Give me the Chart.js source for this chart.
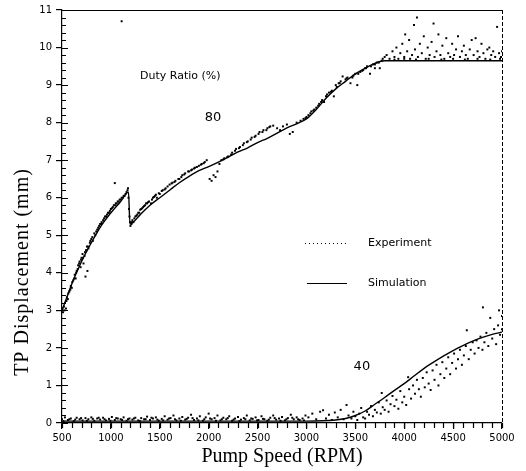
<!DOCTYPE html>
<html>
<head>
<meta charset="utf-8">
<script src="https://cdn.jsdelivr.net/npm/chart.js@4.4.1/dist/chart.umd.min.js"></script>
<style>
html,body{margin:0;padding:0;background:#fff;}
#wrap{width:526px;height:471px;position:relative;}
</style>
</head>
<body>
<div id="wrap"><canvas id="c" width="526" height="471"></canvas></div>
<script>
// ---- data ----
const xTicks = [500,1000,1500,2000,2500,3000,3500,4000,4500,5000];
const yTicks = [0,1,2,3,4,5,6,7,8,9,10,11];

const xTitle = "Pump Speed (RPM)";
const yTitle = "TP Displacement (mm)";
const legendLabels = ["Experiment", "Simulation"];
const annotationLabels = ["Duty Ratio (%)", "80", "40"];

// Simulation, duty ratio 80 %
const sim80Rpm = [500,550,600,700,800,900,1000,1100,1180,1195,1300,1400,1500,1600,1700,1800,1900,2000,2100,2200,2300,2400,2500,2600,2700,2800,2900,3000,3100,3200,3300,3400,3500,3600,3700,3800,3900,4000,4500,5000];
const sim80Tp  = [3.0,3.35,3.7,4.3,4.8,5.25,5.6,5.9,6.15,5.3,5.55,5.8,6.0,6.2,6.4,6.57,6.72,6.83,6.95,7.08,7.22,7.33,7.47,7.58,7.72,7.86,7.97,8.1,8.35,8.65,8.9,9.1,9.3,9.45,9.58,9.65,9.65,9.65,9.65,9.65];

// Simulation, duty ratio 40 %
const sim40Rpm = [500,1000,1500,2000,2500,3000,3300,3400,3500,3600,3700,3800,3900,4000,4100,4200,4300,4400,4500,4600,4700,4800,4900,5000];
const sim40Tp  = [0.05,0.05,0.05,0.05,0.05,0.05,0.08,0.12,0.2,0.32,0.5,0.68,0.87,1.05,1.25,1.45,1.62,1.78,1.93,2.06,2.18,2.28,2.36,2.42];

// Experiment, duty ratio 80 % ([rpm, mm])
const exp80 = [
[500,3.0],[510,2.95],[520,3.1],[530,3.2],[540,3.05],[550,3.35],[560,3.3],[575,3.5],[590,3.65],[600,3.6],
[615,3.8],[630,3.95],[640,3.85],[650,4.05],[665,4.2],[680,4.3],[690,4.15],[700,4.4],[710,4.5],[720,4.25],
[730,4.45],[740,3.9],[745,4.6],[755,4.7],[760,4.05],[770,4.65],[785,4.8],[800,4.9],[815,4.85],[830,5.05],
[850,5.1],[870,5.2],[890,5.3],[905,5.35],[920,5.4],[940,5.5],[960,5.55],[980,5.6],[1000,5.7],[1020,5.75],
[1040,6.39],[1045,5.8],[1060,5.85],[1080,5.9],[1100,5.95],[1110,10.7],[1120,6.0],[1140,6.05],[1160,6.15],[1175,6.25],
[1180,6.0],[1185,5.7],[1190,5.5],[1195,5.35],[1200,5.25],
[1210,5.3],[1220,5.4],[1230,5.35],[1250,5.5],[1270,5.55],[1290,5.6],[1310,5.7],[1330,5.75],[1350,5.8],[1370,5.85],
[1390,5.9],[1410,5.85],[1430,6.0],[1450,6.05],[1470,6.0],[1500,6.1],[1530,6.2],[1560,6.25],[1600,6.35],[1630,6.4],
[1660,6.45],[1700,6.5],[1730,6.6],[1760,6.65],[1800,6.7],[1830,6.75],[1860,6.8],[1900,6.85],[1930,6.9],[1960,6.95],
[1980,7.0],[2010,6.5],[2030,6.45],[2050,6.6],[2070,6.55],[2090,6.7],[2110,6.9],[2130,7.0],[2160,7.05],[2200,7.1],
[2240,7.2],[2280,7.3],[2320,7.35],[2360,7.45],[2400,7.5],[2440,7.6],[2480,7.65],[2520,7.75],[2560,7.8],[2600,7.85],
[2630,7.9],[2660,7.92],[2700,7.85],[2730,7.8],[2760,7.9],[2800,7.95],[2830,7.7],[2860,7.75],[2900,8.0],[2940,8.05],
[2970,8.1],[3000,8.15],[3020,8.2],[3050,8.3],[3080,8.35],[3100,8.4],[3130,8.5],[3160,8.6],[3180,8.55],[3200,8.7],
[3230,8.8],[3260,8.85],[3280,8.7],[3300,9.0],[3330,9.05],[3350,9.1],[3370,9.23],[3400,9.15],[3420,9.2],[3450,9.05],
[3480,9.25],[3500,9.3],[3520,9.0],[3550,9.35],[3580,9.4],[3600,9.45],[3620,9.5],[3650,9.3],[3680,9.55],[3700,9.45],
[3720,9.6],[3750,9.45],[3780,9.7],[3800,9.75],[3820,9.8],[3850,9.7],[3880,9.9],[3900,9.75],[3920,10.0],[3940,9.7],
[3960,9.85],[3980,10.1],[4000,9.75],[4010,10.35],[4030,9.9],[4050,10.2],[4060,9.7],[4080,9.8],[4100,10.6],[4110,9.95],
[4130,10.8],[4140,9.75],[4160,10.1],[4180,9.85],[4200,10.3],[4220,9.7],[4240,10.0],[4260,9.8],[4280,10.15],[4300,10.64],
[4310,9.75],[4330,9.9],[4350,10.35],[4370,9.8],[4390,10.05],[4410,9.7],[4430,10.25],[4450,9.85],[4470,9.75],[4490,10.1],
[4510,9.8],[4530,9.95],[4550,10.3],[4570,9.75],[4590,9.9],[4610,10.05],[4630,9.8],[4650,9.7],[4670,9.95],[4690,10.2],
[4710,9.8],[4730,10.25],[4750,9.9],[4770,9.75],[4790,10.1],[4810,9.85],[4830,9.7],[4850,9.95],[4870,10.0],[4890,9.8],
[4910,9.9],[4930,9.75],[4950,10.55],[4970,9.85],[4990,9.75],[5000,9.9],
[3900,9.68],[4000,9.7],[4120,9.68],[4250,9.7],[4380,9.68],[4500,9.7],[4620,9.68],[4750,9.7],[4880,9.68],[4980,9.7],
[505,3.05],[525,3.0],[545,3.25],[565,3.45],[585,3.55],[605,3.75],[625,3.85],[645,4.0],[660,4.1],[675,4.25],
[695,4.35],[715,4.4],[735,4.55],[750,4.6],[765,4.7],[790,4.85],[810,4.95],[840,5.0],[860,5.15],[880,5.25],
[900,5.3],[930,5.45],[950,5.5],[970,5.6],[990,5.65],[1010,5.72],[1030,5.8],[1050,5.85],[1070,5.9],[1090,5.95],
[1110,6.0],[1130,6.05],[1150,6.1],[1170,6.2],
[1215,5.35],[1240,5.45],[1260,5.52],[1280,5.6],[1300,5.68],[1320,5.72],[1340,5.78],[1360,5.85],[1380,5.88],[1420,5.95],
[1440,6.02],[1460,6.08],[1490,6.12],[1520,6.18],[1550,6.22],[1580,6.3],[1620,6.38],[1650,6.42],[1690,6.5],[1720,6.55],
[1750,6.62],[1790,6.7],[1820,6.73],[1850,6.78],[1880,6.82],[1920,6.88],[1950,6.92],
[2150,7.02],[2190,7.08],[2230,7.15],[2270,7.25],[2310,7.32],[2350,7.4],[2390,7.48],[2430,7.55],[2470,7.62],[2510,7.7],
[2550,7.75],[2590,7.8],[2620,7.88],[2990,8.12],[3040,8.25],[3070,8.32],[3120,8.45],[3150,8.55],[3210,8.75],
[3250,8.82],[3310,8.95],[3340,9.05],[3410,9.18],[3470,9.2],[3530,9.3],[3570,9.38],[3610,9.45],[3660,9.5],[3700,9.55],
[3740,9.6],[3770,9.65]
];

// Experiment, duty ratio 40 % ([rpm, mm])
const exp40 = [
[500,0.1],[530,0.15],[560,0.08],[590,0.12],[620,0.05],[650,0.14],[680,0.1],[710,0.07],[740,0.13],[770,0.1],
[800,0.15],[830,0.06],[860,0.12],[890,0.09],[920,0.14],[950,0.07],[980,0.11],[1010,0.16],[1040,0.08],[1070,0.12],
[1100,0.1],[1130,0.15],[1160,0.06],[1190,0.12],[1220,0.09],[1250,0.14],[1280,0.07],[1310,0.13],[1340,0.1],[1370,0.17],
[1400,0.08],[1430,0.12],[1460,0.15],[1490,0.06],[1520,0.11],[1550,0.18],[1580,0.09],[1610,0.13],[1640,0.2],[1670,0.07],
[1700,0.12],[1730,0.16],[1760,0.09],[1790,0.14],[1820,0.22],[1850,0.08],[1880,0.12],[1910,0.18],[1940,0.06],[1970,0.15],
[2000,0.25],[2030,0.1],[2060,0.13],[2090,0.2],[2120,0.07],[2150,0.14],[2180,0.1],[2210,0.18],[2240,0.06],[2270,0.12],
[2300,0.16],[2330,0.09],[2360,0.13],[2390,0.2],[2420,0.07],[2450,0.11],[2480,0.15],[2510,0.08],[2540,0.18],[2570,0.1],
[2600,0.06],[2630,0.14],[2660,0.2],[2690,0.09],[2720,0.12],[2750,0.16],[2780,0.07],[2810,0.13],[2840,0.22],[2870,0.1],
[2900,0.15],[2930,0.08],[2960,0.12],[2990,0.2],
[515,0.05],[575,0.1],[635,0.09],[695,0.13],[755,0.06],[815,0.11],[875,0.14],[935,0.1],[995,0.06],[1055,0.13],
[1115,0.08],[1175,0.1],[1235,0.12],[1295,0.05],[1355,0.1],[1415,0.14],[1475,0.09],[1535,0.07],[1595,0.12],[1655,0.1],
[1715,0.06],[1775,0.11],[1835,0.13],[1895,0.07],[1955,0.1],[2015,0.12],[2075,0.06],[2135,0.1],[2195,0.13],[2255,0.09],
[2315,0.05],[2375,0.1],[2435,0.12],[2495,0.07],[2555,0.11],[2615,0.09],[2675,0.13],[2735,0.06],[2795,0.1],[2855,0.14],
[2915,0.1],[2975,0.07],
[3020,0.15],[3060,0.25],[3100,0.1],[3140,0.3],[3170,0.34],[3200,0.12],[3230,0.22],[3260,0.08],[3290,0.28],[3320,0.15],
[3350,0.35],[3380,0.1],[3410,0.48],[3430,0.2],[3460,0.12],[3480,0.3],[3500,0.18],[3520,0.08],[3540,0.25],[3560,0.4],
[3580,0.15],[3600,0.12],[3620,0.3],[3640,0.22],[3660,0.45],[3680,0.18],[3700,0.35],[3720,0.28],[3740,0.55],[3760,0.25],
[3770,0.8],[3780,0.42],[3800,0.35],[3820,0.6],[3840,0.3],[3860,0.5],[3880,0.72],[3900,0.45],[3920,0.62],[3940,0.38],
[3960,0.85],[3980,0.55],[4000,0.7],[4020,0.48],[4040,1.22],[4050,0.9],[4070,0.65],[4090,1.0],[4110,0.78],[4130,1.15],
[4150,0.9],[4170,0.7],[4190,1.2],[4210,0.95],[4230,1.35],[4250,1.05],[4270,0.88],[4290,1.4],[4310,1.15],[4330,1.55],
[4350,1.0],[4370,1.3],[4390,1.62],[4410,1.2],[4430,1.45],[4450,1.75],[4470,1.3],[4490,1.6],[4510,1.85],[4530,1.45],
[4550,1.7],[4570,1.95],[4590,1.55],[4610,1.8],[4630,2.05],[4640,2.47],[4660,1.7],[4680,1.95],[4700,2.15],[4720,1.85],
[4740,2.2],[4760,2.0],[4780,2.3],[4800,1.95],[4805,3.08],[4820,2.15],[4840,2.4],[4860,2.05],[4880,2.8],[4900,2.25],
[4920,2.5],[4940,2.1],[4960,2.6],[4970,3.0],[4980,2.35],[5000,2.5],[5000,2.85]
];

// ---- build datasets ----
const pairs = a => a.map(p => ({x:p[0], y:p[1]}));
const zip = (xs, ys) => xs.map((x,i) => ({x:x, y:ys[i]}));

const serif = "'Liberation Serif','Times New Roman',serif";
const sans = "'DejaVu Sans',sans-serif";

// custom decorations: borders, minor ticks, annotations, legend, y title
const decor = {
  id: 'decor',
  afterDraw(chart) {
    const ctx = chart.ctx, a = chart.chartArea;
    const xs = chart.scales.x, ys = chart.scales.y;
    ctx.save();
    ctx.setLineDash([]);
    ctx.strokeStyle = '#000';
    ctx.lineWidth = 1.2;
    // top border
    ctx.beginPath(); ctx.moveTo(a.left, a.top + 0.5); ctx.lineTo(a.right, a.top + 0.5); ctx.stroke();
    // minor ticks y (inward)
    ctx.beginPath();
    for (let i = 0; i <= 55; i++) {
      const py = Math.round(ys.getPixelForValue(i * 0.2)) + 0.5;
      const len = (i % 5 === 0) ? 6 : 4;
      ctx.moveTo(a.left, py); ctx.lineTo(a.left + len, py);
    }
    // minor ticks x (outward)
    for (let i = 0; i <= 45; i++) {
      const px = Math.round(xs.getPixelForValue(500 + i * 100)) + 0.5;
      ctx.moveTo(px, a.bottom); ctx.lineTo(px, a.bottom + 5);
    }
    ctx.stroke();
    // right border (broken)
    ctx.lineWidth = 1;
    ctx.setLineDash([4,2]);
    ctx.beginPath(); ctx.moveTo(a.right + 0.5, a.top); ctx.lineTo(a.right + 0.5, a.bottom); ctx.stroke();
    ctx.setLineDash([]);
    // annotations
    ctx.fillStyle = '#000';
    ctx.textBaseline = 'middle';
    ctx.textAlign = 'left';
    ctx.font = "11px " + sans;
    ctx.fillText(annotationLabels[0], xs.getPixelForValue(1298), ys.getPixelForValue(9.23));
    ctx.textAlign = 'center';
    ctx.font = "13px " + sans;
    ctx.fillText(annotationLabels[1], xs.getPixelForValue(2044), ys.getPixelForValue(8.14));
    ctx.fillText(annotationLabels[2], xs.getPixelForValue(3567), ys.getPixelForValue(1.49));
    // legend
    ctx.font = "11px " + sans;
    ctx.textAlign = 'left';
    const ly1 = Math.round(ys.getPixelForValue(4.8)) + 0.5;
    const ly2 = Math.round(ys.getPixelForValue(3.74)) + 0.5;
    ctx.setLineDash([1,3]);
    ctx.beginPath(); ctx.moveTo(xs.getPixelForValue(2985), ly1); ctx.lineTo(xs.getPixelForValue(3425), ly1); ctx.stroke();
    ctx.setLineDash([]);
    ctx.beginPath(); ctx.moveTo(xs.getPixelForValue(3005), ly2); ctx.lineTo(xs.getPixelForValue(3415), ly2); ctx.stroke();
    ctx.fillText(legendLabels[0], xs.getPixelForValue(3629), ly1);
    ctx.fillText(legendLabels[1], xs.getPixelForValue(3629), ly2);
    // y axis title
    ctx.translate(28, 272);
    ctx.rotate(-Math.PI / 2);
    ctx.font = "20px " + serif;
    ctx.textAlign = 'center';
    ctx.textBaseline = 'alphabetic';
    try { ctx.letterSpacing = '1px'; } catch (e) {}
    ctx.fillText(yTitle, 0, 0);
    ctx.restore();
  }
};

new Chart(document.getElementById('c'), {
  type: 'scatter',
  data: {
    datasets: [
      { label: 'Experiment 80', data: pairs(exp80), showLine: false, pointStyle: 'rect', pointRadius: 1.4, pointBorderWidth: 0, backgroundColor: '#000', borderColor: '#000' },
      { label: 'Simulation 80', data: zip(sim80Rpm, sim80Tp), showLine: true, pointRadius: 0, borderColor: '#000', borderWidth: 1.4, cubicInterpolationMode: 'monotone' },
      { label: 'Experiment 40', data: pairs(exp40), showLine: false, pointStyle: 'rect', pointRadius: 1.4, pointBorderWidth: 0, backgroundColor: '#000', borderColor: '#000' },
      { label: 'Simulation 40', data: zip(sim40Rpm, sim40Tp), showLine: true, pointRadius: 0, borderColor: '#000', borderWidth: 1.4, cubicInterpolationMode: 'monotone' }
    ]
  },
  options: {
    responsive: false,
    animation: false,
    layout: { padding: { top: 8, right: 24, left: 0, bottom: 0 } },
    plugins: { legend: { display: false }, tooltip: { enabled: false } },
    scales: {
      x: {
        type: 'linear', min: xTicks[0], max: xTicks[xTicks.length - 1],
        afterBuildTicks: s => { s.ticks = xTicks.map(v => ({ value: v })); },
        afterFit: s => { s.height = 48; },
        ticks: { color: '#000', font: { family: "'DejaVu Sans',sans-serif", size: 10 }, padding: 3, maxRotation: 0, autoSkip: false, callback: v => String(v) },
        grid: { drawOnChartArea: false, drawTicks: true, tickLength: 6, color: '#000', lineWidth: 1.2 },
        border: { display: true, color: '#000', width: 1.2 },
        title: { display: true, text: xTitle, color: '#000', font: { family: serif, size: 20 }, padding: { top: 0, bottom: 2 } }
      },
      y: {
        type: 'linear', min: yTicks[0], max: yTicks[yTicks.length - 1],
        afterBuildTicks: s => { s.ticks = yTicks.map(v => ({ value: v })); },
        afterFit: s => { s.width = 62; },
        ticks: { color: '#000', font: { family: "'DejaVu Sans',sans-serif", size: 10 }, padding: 4, autoSkip: false, callback: v => String(v) },
        grid: { drawOnChartArea: false, drawTicks: true, tickLength: 6, color: '#000', lineWidth: 1.2 },
        border: { display: true, color: '#000', width: 1.2 }
      }
    }
  },
  plugins: [decor]
});
</script>
</body>
</html>
